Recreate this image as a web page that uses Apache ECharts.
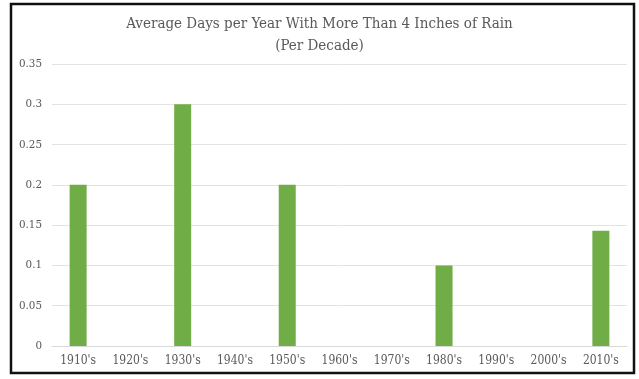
<!DOCTYPE html>
<html>
<head>
<meta charset="utf-8">
<script src="https://cdn.jsdelivr.net/npm/echarts@6/dist/echarts.min.js"></script>
<style>
  html, body { margin: 0; padding: 0; background: #fff; }
  #chart { width: 639px; height: 379px; }
</style>
</head>
<body>
<div id="chart"></div>
<script>
// Decades on the category axis
const decades = ["1910's", "1920's", "1930's", "1940's", "1950's", "1960's", "1970's", "1980's", "1990's", "2000's", "2010's"];
// Average days per year with more than 4 inches of rain, per decade
const avgDays = [0.2, 0, 0.3, 0, 0.2, 0, 0, 0.1, 0, 0, 0.143];
// Value axis range
const yMin = 0;
const yMax = 0.35;
const yStep = 0.05;

const titleText = 'Average Days per Year With More Than 4 Inches of Rain\n(Per Decade)';
const font = '"DejaVu Serif Condensed", "Liberation Serif", serif';

const chart = echarts.init(document.getElementById('chart'), null, { renderer: 'canvas' });
chart.setOption({
  backgroundColor: '#ffffff',
  animation: false,
  title: {
    text: titleText,
    left: 'center',
    top: 8,
    textStyle: {
      fontFamily: font,
      fontSize: 15,
      fontWeight: 'normal',
      color: '#595959',
      lineHeight: 22
    }
  },
  grid: { left: 52, right: 12, top: 64, bottom: 33, containLabel: false },
  xAxis: {
    type: 'category',
    data: decades,
    axisLine: { show: true, lineStyle: { color: '#d9d9d9', width: 1 } },
    axisTick: { show: false },
    axisLabel: {
      fontFamily: font,
      fontSize: 12,
      color: '#595959',
      margin: 9,
      interval: 0
    }
  },
  yAxis: {
    type: 'value',
    min: yMin,
    max: yMax,
    interval: yStep,
    axisLine: { show: false },
    axisTick: { show: false },
    splitLine: { lineStyle: { color: '#e3e3e3', width: 1 } },
    axisLabel: {
      fontFamily: font,
      fontSize: 11.5,
      color: '#595959',
      margin: 10,
      formatter: v => String(+v.toFixed(2))
    }
  },
  series: [{
    type: 'bar',
    data: avgDays,
    barWidth: 17,
    itemStyle: { color: '#70ad47' }
  }],
  graphic: [{
    type: 'rect',
    shape: { x: 11, y: 4, width: 623, height: 369 },
    style: { fill: 'none', stroke: '#111', lineWidth: 2.5 },
    z: 100
  }]
});
</script>
</body>
</html>
